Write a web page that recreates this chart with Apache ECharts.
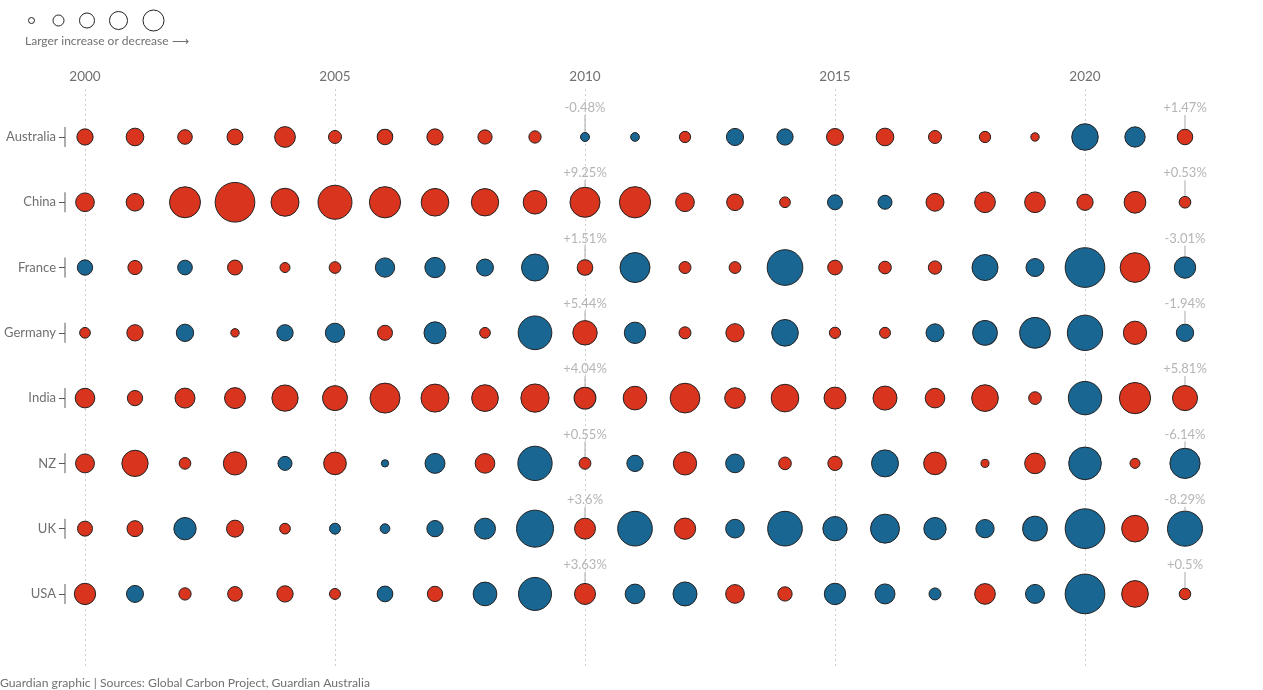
<!DOCTYPE html>
<html><head><meta charset="utf-8">
<script src="https://cdn.jsdelivr.net/npm/echarts@6/dist/echarts.min.js"></script>
<style>html,body{margin:0;padding:0;background:#fff}#chart{width:1263px;height:690px}</style>
</head><body><div id="chart"></div>
<script>
// ---- data ----
const years = [2000,2001,2002,2003,2004,2005,2006,2007,2008,2009,2010,2011,2012,2013,2014,2015,2016,2017,2018,2019,2020,2021,2022];
const countries = ['Australia','China','France','Germany','India','NZ','UK','USA'];
const australia = [1.7, 2.2, 1.2, 1.6, 3.5, 0.8, 1.5, 1.7, 1.1, 0.65, -0.48, -0.45, 0.46, -1.9, -1.7, 1.95, 2.2, 0.8, 0.46, 0.1, -4.7, -2.7, 1.47];
const china     = [2.6, 2.2, 10.0, 18.1, 7.75, 12.5, 10.2, 7.5, 7.3, 5.0, 9.25, 10.2, 2.6, 1.85, 0.37, -1.43, -1.24, 2.3, 3.5, 3.5, 1.7, 4.0, 0.53];
const france    = [-1.5, 1.1, -1.37, 1.3, 0.27, 0.53, -2.43, -2.7, -1.86, -4.86, 1.51, -6.04, 0.59, 0.55, -8.6, 1.23, 0.73, 0.87, -4.5, -2.1, -10.7, 9.0, -3.01];
const germany   = [0.37, 1.72, -1.94, 0.1, -1.71, -2.43, 1.31, -3.19, 0.37, -7.65, 5.44, -3.0, 0.59, 2.44, -4.74, 0.46, 0.41, -2.1, -4.03, -6.3, -8.44, 4.8, -1.94];
const india     = [3.0, 1.4, 3.15, 3.6, 6.6, 5.6, 9.2, 7.75, 6.86, 7.96, 4.04, 5.0, 9.0, 3.47, 7.5, 4.1, 5.2, 3.0, 6.86, 0.73, -7.5, 10.2, 5.81];
const nz        = [2.7, 6.6, 0.53, 4.8, -1.24, 4.47, -0.3, -2.61, 3.0, -7.96, 0.55, -1.71, 4.8, -2.27, 0.73, 1.12, -4.86, 4.47, 0.07, 3.47, -7.2, 0.27, -6.14];
const uk        = [1.31, 1.62, -3.29, 1.95, 0.37, -0.74, -0.56, -1.71, -2.89, -9.27, 3.6, -8.12, 3.76, -2.27, -8.12, -3.92, -5.63, -3.29, -2.18, -4.03, -10.7, 6.86, -8.29];
const usa       = [3.76, -1.86, 0.65, 1.23, 1.72, 0.41, -1.58, 1.4, -3.72, -7.34, 3.63, -2.53, -3.81, 2.6, 1.12, -3.0, -2.61, -0.89, 3.47, -2.35, -10.7, 6.86, 0.5];
const yearTicks = [2000, 2005, 2010, 2015, 2020];
const labelledYears = [2010, 2022];
const legendText = 'Larger increase or decrease \u27F6';
const footerText = 'Guardian graphic | Sources: Global Carbon Project, Guardian Australia';

// ---- build ----
const rows = [australia, china, france, germany, india, nz, uk, usa];
const RED = '#d9341d', BLUE = '#1a6693';
const FONT = 'Lato';
const X_MIN = 1999.6, X_MAX = 2023;
function diam(v) { return v >= 0 ? 5.9 + 7.94 * Math.sqrt(v) : 0.76 + 11.9 * Math.sqrt(-v); }

const points = [];
rows.forEach((arr, ci) => arr.forEach((v, yi) => points.push([years[yi], ci, v])));
const labelPts = points.filter(p => labelledYears.indexOf(p[0]) >= 0);
const rowBars = countries.map((c, i) => [X_MIN, i]);

const chart = echarts.init(document.getElementById('chart'), null, {renderer: 'canvas'});
chart.setOption({
  animation: false,
  backgroundColor: '#fff',
  textStyle: {fontFamily: FONT},
  grid: {left: 65, right: 28, top: 89, bottom: 21, containLabel: false},
  xAxis: {
    type: 'value', position: 'top', min: X_MIN, max: X_MAX,
    axisLine: {show: false},
    axisTick: {show: false, customValues: yearTicks},
    axisLabel: {customValues: yearTicks, formatter: v => String(v), color: '#707070', fontSize: 13.5, fontFamily: FONT, margin: 5},
    splitLine: {show: true, lineStyle: {color: '#cfcfcf', type: [2, 3], width: 1}}
  },
  yAxis: {
    type: 'value', inverse: true, min: -0.735, max: 8.15,
    axisLine: {show: false},
    axisTick: {show: true, length: 6, customValues: countries.map((c, i) => i), lineStyle: {color: '#555', width: 1}},
    axisLabel: {customValues: countries.map((c, i) => i), formatter: v => countries[v] || '', color: '#707070', fontSize: 13, fontFamily: FONT, margin: 9},
    splitLine: {show: false}
  },
  series: [
    {
      type: 'scatter', data: rowBars, symbol: 'rect', symbolSize: [1.2, 20], clip: false, silent: true,
      itemStyle: {color: '#555'}
    },
    {
      type: 'scatter', data: points, clip: false,
      symbolSize: val => diam(val[2]),
      itemStyle: {
        color: p => p.value[2] >= 0 ? RED : BLUE,
        borderColor: '#222', borderWidth: 1, opacity: 1
      },
      z: 3
    },
    {
      type: 'custom', data: labelPts, clip: false, silent: true, z: 4,
      renderItem: (params, api) => {
        const p = api.coord([api.value(0), api.value(1)]);
        const v = api.value(2);
        const r = diam(v) / 2 + 0.5;
        const txt = (v > 0 ? '+' : '') + v + '%';
        return {type: 'group', children: [
          {type: 'line', shape: {x1: p[0], y1: p[1] - 22, x2: p[0], y2: p[1] - Math.min(r, 22)}, style: {stroke: '#aaa', lineWidth: 1}},
          {type: 'text', x: p[0], y: p[1] - 29, style: {text: txt, align: 'center', verticalAlign: 'middle', fill: '#b5b5b5', font: '13px ' + FONT}}
        ]};
      }
    }
  ],
  graphic: [
    {type: 'circle', shape: {cx: 31.5, cy: 20.5, r: 3}, style: {fill: 'none', stroke: '#222', lineWidth: 1}},
    {type: 'circle', shape: {cx: 58.5, cy: 20.5, r: 5.5}, style: {fill: 'none', stroke: '#222', lineWidth: 1}},
    {type: 'circle', shape: {cx: 87, cy: 20.5, r: 7.5}, style: {fill: 'none', stroke: '#222', lineWidth: 1}},
    {type: 'circle', shape: {cx: 118.5, cy: 20.5, r: 9}, style: {fill: 'none', stroke: '#222', lineWidth: 1}},
    {type: 'circle', shape: {cx: 153.5, cy: 20.5, r: 10.5}, style: {fill: 'none', stroke: '#222', lineWidth: 1}},
    {type: 'text', left: 25, top: 35, style: {text: legendText, fill: '#707070', font: '12px ' + FONT}},
    {type: 'text', left: 0, top: 677, style: {text: footerText, fill: '#707070', font: '12.2px ' + FONT}}
  ]
});
</script>
</body></html>
